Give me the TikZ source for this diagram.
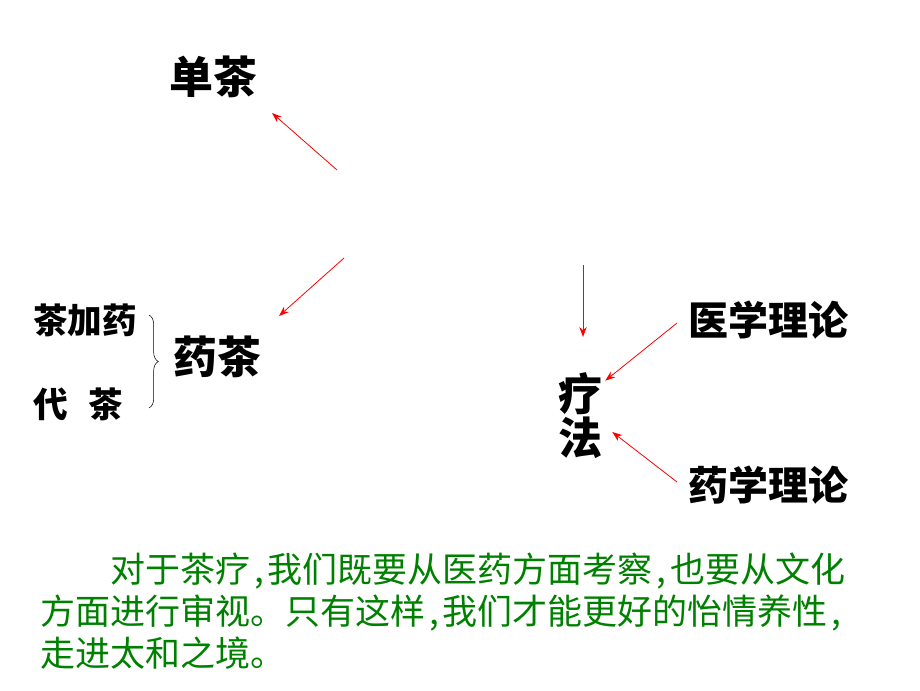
\documentclass[tikz,border=0pt]{standalone}
\usepackage{fontspec}
\usepackage{tikz}
\usetikzlibrary{arrows.meta,decorations.pathreplacing,calc}
\newfontfamily\cjk{Noto Sans CJK SC}
\definecolor{txtgreen}{RGB}{0,128,0}
\newcommand{\hcomma}{\makebox[0.5em][c]{,}}

\begin{document}
\begin{tikzpicture}[x=0.75pt,y=-0.75pt,
  arr/.style={red,line width=0.6pt,-{Stealth[length=7.5pt,width=5.5pt]}},
  big/.style={font=\cjk\bfseries\fontsize{33}{33}\selectfont,inner sep=0pt,align=center},
  mid/.style={font=\cjk\bfseries\fontsize{30}{30}\selectfont,inner sep=0pt},
  small/.style={font=\cjk\bfseries\fontsize{26}{26}\selectfont,inner sep=0pt}]
\useasboundingbox (0,0) rectangle (920,690);
% top part
\node[big] (dancha) at (213,77) {单茶};
\node[big] (yaocha) at (217,357) {药茶};
\node[small,anchor=west] (chajia) at (33,320) {茶加药};
\node[small,anchor=west] (daicha) at (33,404) {代\hspace{0.6em}茶};
\draw[decorate,decoration={brace,amplitude=7pt}] (149,315) -- (149,408);
\coordinate (t1) at (337,170);
\coordinate (h1) at (272,113);
\coordinate (t2) at (344,258);
\coordinate (h2) at (279,316);
\draw[arr] (t1) -- (h1);
\draw[arr] (t2) -- (h2);
% right part
\node[big] (liaofa) at (580,416) {疗\\法};
\node[mid,anchor=west] (yixue) at (688,320) {医学理论};
\node[mid,anchor=west] (yaoxue) at (688,485) {药学理论};
\coordinate (t3) at (583,265);
\coordinate (h3) at (583,337);
\draw[arr] (t3) -- (h3);
\draw[arr] ($(yixue.west)+(-11,3)$) -- ($(liaofa.north east)+(3,8)$);
\draw[arr] ($(yaoxue.west)+(-11,-3)$) -- ($(liaofa.east)+(10,16)$);
% note
\node[anchor=north west,align=left,text=txtgreen,inner sep=0pt,
  font=\cjk\fontsize{26.25}{31.5}\selectfont] (note) at (40,553)
  {\hspace*{2em}对于茶疗\hcomma 我们既要从医药方面考察\hcomma 也要从文化\\
   方面进行审视。只有这样\hcomma 我们才能更好的怡情养性\hcomma\\
   走进太和之境。};
\end{tikzpicture}
\end{document}
